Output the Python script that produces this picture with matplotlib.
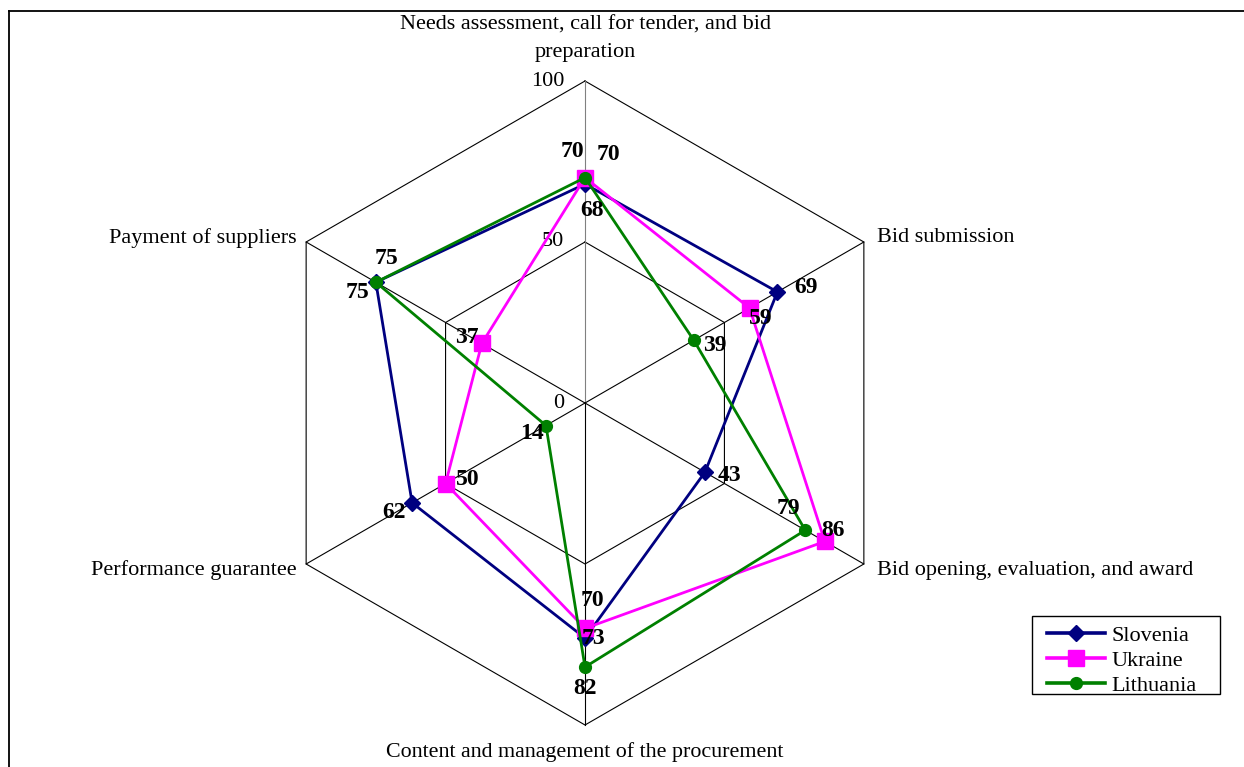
import numpy as np
import matplotlib
matplotlib.use('Agg')
import matplotlib.pyplot as plt
from matplotlib.patches import Rectangle

plt.rcParams['font.family'] = ['Liberation Serif', 'DejaVu Serif']

categories = ['Needs assessment, call for tender, and bid\npreparation',
              'Bid submission',
              'Bid opening, evaluation, and award',
              'Content and management of the procurement',
              'Performance guarantee',
              'Payment of suppliers']
slovenia = [68, 69, 43, 73, 62, 75]
ukraine = [70, 59, 86, 70, 50, 37]
lithuania = [70, 39, 79, 82, 14, 75]
ticks = [0, 50, 100]

# label offsets in pixels (dx, dy) for each point, per series
off_slo = [(7, -26), (29, 4), (25, -3), (8, 0), (-18, -10), (-18, -10)]
off_ukr = [(-13, 26), (11, -10), (8, 11), (7, 28), (22, 4), (-15, 6)]
off_lit = [(23, 23), (21, -5), (-17, 22), (0, -21), (-14, -8), (11, 24)]

W, H = 1244, 767
cx, cy, R = 585, 403, 322  # centre and radius in pixels
s = R / 100.0

fig = plt.figure(figsize=(W / 100, H / 100), dpi=100)
ax = fig.add_axes([0, 0, 1, 1])
ax.set_xlim(-cx / s, (W - cx) / s)
ax.set_ylim(-(H - cy) / s, cy / s)
ax.axis('off')

ang = np.deg2rad(90 - 60 * np.arange(6))

# hexagon grid and spokes
for t in ticks[1:]:
    xs = np.append(t * np.cos(ang), t * np.cos(ang[0]))
    ys = np.append(t * np.sin(ang), t * np.sin(ang[0]))
    ax.plot(xs, ys, color='black', lw=0.8, zorder=1)
for i, a in enumerate(ang):
    ax.plot([0, 100 * np.cos(a)], [0, 100 * np.sin(a)],
            color='#808080' if i == 0 else 'black', lw=0.8, zorder=1)

for t in ticks:
    ax.text(-6.5, t, str(t), ha='right', va='center', fontsize=16)

series = [('Slovenia', slovenia, '#000080', 'D', 8, off_slo),
          ('Ukraine', ukraine, '#FF00FF', 's', 11, off_ukr),
          ('Lithuania', lithuania, '#008000', 'o', 8.5, off_lit)]

for k, (name, vals, col, mk, ms, offs) in enumerate(series):
    v = np.array(vals, dtype=float)
    xs = v * np.cos(ang)
    ys = v * np.sin(ang)
    ax.plot(np.append(xs, xs[0]), np.append(ys, ys[0]), color=col, lw=2.0,
            marker=mk, markersize=ms, markevery=list(range(6)), label=name,
            zorder=3 + k)
    for x, y, val, (dx, dy) in zip(xs, ys, vals, offs):
        ax.annotate(str(val), (x, y), xytext=(dx, dy), textcoords='offset pixels',
                    ha='center', va='center', fontsize=17, fontweight='bold',
                    zorder=10)

# category labels
ax.text(0, (cy - 39) / s, categories[0], ha='center', va='center', fontsize=16,
        linespacing=1.6)
ax.text((877 - cx) / s, (cy - 238) / s, categories[1], ha='left', va='center', fontsize=16)
ax.text((877 - cx) / s, (cy - 570) / s, categories[2], ha='left', va='center', fontsize=16)
ax.text(0, (cy - 752) / s, categories[3], ha='center', va='center', fontsize=15.8)
ax.text((297 - cx) / s, (cy - 570) / s, categories[4], ha='right', va='center', fontsize=16)
ax.text((297 - cx) / s, (cy - 238) / s, categories[5], ha='right', va='center', fontsize=16)

leg = ax.legend(loc='upper left', bbox_to_anchor=(1047 / W, 1 - 625 / H),
                bbox_transform=fig.transFigure, fontsize=16, frameon=False,
                handlelength=2.6, handletextpad=0.3, labelspacing=0.2,
                borderpad=0, borderaxespad=0)
for h in leg.legend_handles:
    h.set_linewidth(2.6)
fig.add_artist(Rectangle((1032 / W, 1 - 694 / H), 188 / W, 78 / H,
                         transform=fig.transFigure, fill=False,
                         edgecolor='black', lw=1.0))

# outer frame (cut by the image edges)
fig.add_artist(plt.Line2D([8.5 / W, 8.5 / W], [0, 1 - 10.5 / H],
                          transform=fig.transFigure, color='black', lw=1.3))
fig.add_artist(plt.Line2D([8.5 / W, 1], [1 - 10.5 / H, 1 - 10.5 / H],
                          transform=fig.transFigure, color='black', lw=1.3))

fig.savefig('out.png', dpi=100, facecolor='white')
